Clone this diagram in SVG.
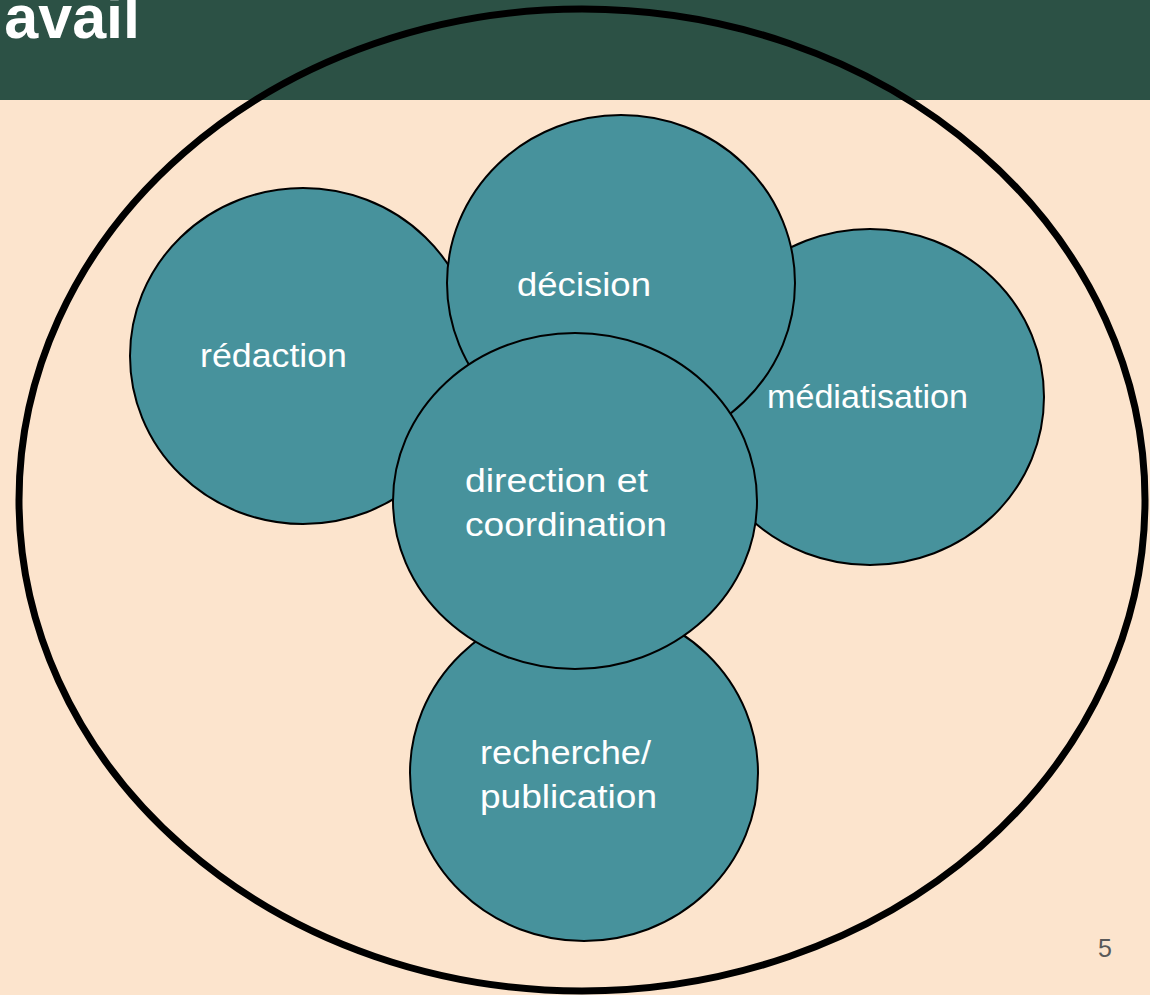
<svg xmlns="http://www.w3.org/2000/svg" width="1150" height="995" viewBox="0 0 1150 995">
<style>
.bub{fill:#47929c;stroke:#000;stroke-width:2}
.lbl{font-family:"Liberation Sans",Arial,sans-serif;font-size:34px;fill:#fff}
</style>
<rect x="0" y="0" width="1150" height="995" fill="#fce4cd"/>
<rect x="0" y="0" width="1150" height="100" fill="#2c5145"/>
<text x="140" y="38" text-anchor="end" font-family="Liberation Sans,Arial,sans-serif" font-weight="bold" font-size="61" fill="#fff">avail</text>
<g id="redaction"><ellipse class="bub" cx="303" cy="356" rx="173" ry="168"/><text class="lbl" x="200" y="367" textLength="147" lengthAdjust="spacingAndGlyphs">rédaction</text></g>
<g id="mediatisation"><ellipse class="bub" cx="870" cy="397" rx="174" ry="168"/><text class="lbl" x="767" y="408" textLength="201" lengthAdjust="spacingAndGlyphs">médiatisation</text></g>
<g id="decision"><ellipse class="bub" cx="621" cy="283" rx="174" ry="168"/><text class="lbl" x="517" y="296" textLength="134" lengthAdjust="spacingAndGlyphs">décision</text></g>
<g id="recherche"><ellipse class="bub" cx="584" cy="773" rx="174" ry="168"/><text class="lbl" x="480" y="764" textLength="171" lengthAdjust="spacingAndGlyphs">recherche/</text><text class="lbl" x="480" y="808" textLength="177" lengthAdjust="spacingAndGlyphs">publication</text></g>
<g id="direction"><ellipse class="bub" cx="575" cy="501" rx="182" ry="168"/><text class="lbl" x="465" y="492" textLength="183" lengthAdjust="spacingAndGlyphs">direction et</text><text class="lbl" x="465" y="536" textLength="202" lengthAdjust="spacingAndGlyphs">coordination</text></g>
<g id="connectors"></g>
<ellipse id="outer" cx="582" cy="500" rx="563" ry="491" fill="none" stroke="#000" stroke-width="7"/>
<text x="1105" y="957" text-anchor="middle" font-family="Liberation Sans,Arial,sans-serif" font-size="25" fill="#595959">5</text>
</svg>
